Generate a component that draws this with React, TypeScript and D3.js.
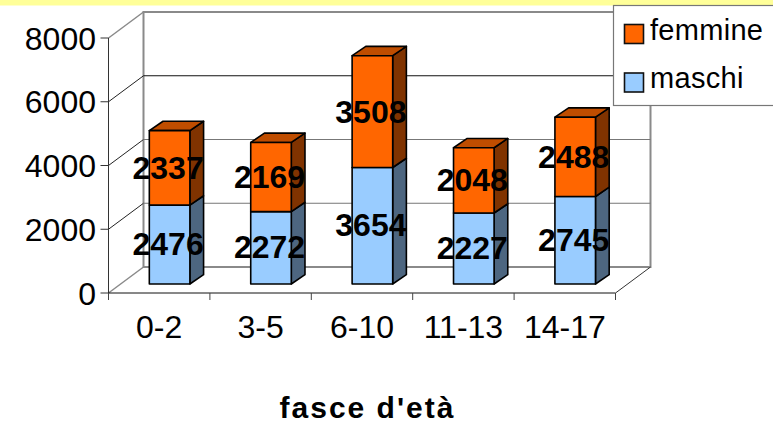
import React from 'react';
import * as d3 from 'd3';

const ageBands = ['0-2', '3-5', '6-10', '11-13', '14-17'];
const maschi = [2476, 2272, 3654, 2227, 2745];
const femmine = [2337, 2169, 3508, 2048, 2488];
const yTicks = [0, 2000, 4000, 6000, 8000];
const legendLabels = ['femmine', 'maschi'];

const width = 773;
const height = 424;

// fake 3d offsets
const wallDx = 35;
const wallDy = -26;
const barOx = 10.4;
const barOy = -9;
const sideDx = 13.7;
const sideDy = -9.3;

const FONT = '"Liberation Sans", Arial, sans-serif';

const y = d3.scaleLinear().domain([0, 8000]).range([293, 38]);
const x = d3.scaleBand<string>().domain(ageBands).range([108.5, 615.5]).paddingInner(0.6).paddingOuter(0.3);

const poly = (pts: [number, number][]) => d3.line()(pts) + 'Z';

const Segment: React.FC<{ x0: number; w: number; lo: number; hi: number; front: string; side: string; top?: string }> = ({ x0, w, lo, hi, front, side, top }) => {
  const yLo = y(lo) + barOy;
  const yHi = y(hi) + barOy;
  const x1 = x0 + w;
  return (
    <g stroke="#000" strokeWidth={1.6} strokeLinejoin="round">
      <path d={poly([[x1, yLo], [x1 + sideDx, yLo + sideDy], [x1 + sideDx, yHi + sideDy], [x1, yHi]])} fill={side} />
      {top && <path d={poly([[x0, yHi], [x0 + sideDx, yHi + sideDy], [x1 + sideDx, yHi + sideDy], [x1, yHi]])} fill={top} />}
      <rect x={x0} y={yHi} width={w} height={yLo - yHi} fill={front} />
    </g>
  );
};

export default function App() {
  const xLeft = 108.5;
  const xRight = 615.5;
  const tickStep = (xRight - xLeft) / ageBands.length;

  return (
    <svg width={width} height={height} style={{ position: 'absolute', left: 0, top: 0, background: '#fff' }} fontFamily={FONT}>
      <rect x={0} y={0} width={width} height={5.5} fill="#FFFF99" />

      {/* back wall */}
      <path d={poly([[xLeft + wallDx, y(8000) + wallDy], [xRight + wallDx, y(8000) + wallDy], [xRight + wallDx, y(0) + wallDy], [xLeft + wallDx, y(0) + wallDy]])} fill="#fff" stroke="#8a8a8a" strokeWidth={2} />
      <line x1={xLeft} y1={y(8000)} x2={xLeft + wallDx} y2={y(8000) + wallDy} stroke="#8a8a8a" strokeWidth={1.5} />
      <line x1={xLeft} y1={y(0)} x2={xLeft + wallDx} y2={y(0) + wallDy} stroke="#8a8a8a" strokeWidth={1.5} />
      <line x1={xRight} y1={y(0)} x2={xRight + wallDx} y2={y(0) + wallDy} stroke="#333" strokeWidth={1} />

      {/* gridlines */}
      {yTicks.filter(t => t > 0 && t < 8000).map(t => (
        <g key={t} fill="none">
          <line x1={xLeft} y1={y(t)} x2={xLeft + wallDx} y2={y(t) + wallDy} stroke="#222" strokeWidth={1} />
          <line x1={xLeft + wallDx} y1={y(t) + wallDy} x2={xRight + wallDx} y2={y(t) + wallDy} stroke={t === 6000 ? '#111' : '#777'} strokeWidth={1} />
        </g>
      ))}

      {/* axes */}
      <line x1={xLeft} y1={y(0)} x2={xLeft} y2={y(8000)} stroke="#333" strokeWidth={1} />
      <line x1={xLeft} y1={y(0)} x2={xRight} y2={y(0)} stroke="#111" strokeWidth={1} />
      {yTicks.map(t => (
        <g key={t}>
          <line x1={xLeft - 8} y1={y(t)} x2={xLeft} y2={y(t)} stroke="#333" strokeWidth={1} />
          <text x={96} y={y(t)} dy="0.36em" textAnchor="end" fontSize={32} fill="#000">{t}</text>
        </g>
      ))}
      {d3.range(ageBands.length + 1).map(i => (
        <line key={i} x1={xLeft + i * tickStep} y1={y(0)} x2={xLeft + i * tickStep} y2={y(0) + 7} stroke="#444" strokeWidth={1} />
      ))}
      {ageBands.map((b, i) => (
        <text key={b} x={xLeft + (i + 0.5) * tickStep} y={338} textAnchor="middle" fontSize={32} fill="#000">{b}</text>
      ))}

      {/* bars */}
      {ageBands.map((b, i) => {
        const x0 = x(b)! + barOx;
        const w = x.bandwidth();
        return (
          <g key={b}>
            <Segment x0={x0} w={w} lo={0} hi={maschi[i]} front="#99CCFF" side="#4D6680" />
            <Segment x0={x0} w={w} lo={maschi[i]} hi={maschi[i] + femmine[i]} front="#FF6600" side="#803300" top="#BF4D00" />
          </g>
        );
      })}

      {/* value labels */}
      {ageBands.map((b, i) => {
        const cx = x(b)! + barOx + x.bandwidth() / 2 - 1.5;
        return (
          <g key={b} fontSize={32} fontWeight="bold" textAnchor="middle" fill="#000">
            <text x={cx} y={y(maschi[i] / 2) + barOy - 1} dy="0.36em">{maschi[i]}</text>
            <text x={cx} y={y(maschi[i] + femmine[i] / 2) + barOy - 0.5} dy="0.36em">{femmine[i]}</text>
          </g>
        );
      })}

      {/* legend */}
      <rect x={613.5} y={5.5} width={162} height={100} fill="#fff" stroke="#777" strokeWidth={1.2} />
      {legendLabels.map((l, i) => (
        <g key={l}>
          <rect x={624.5} y={24.5 + i * 48.5} width={19} height={19} fill={i === 0 ? '#FF6600' : '#99CCFF'} stroke="#111" strokeWidth={1.6} />
          <text x={650} y={40 + i * 48} fontSize={29} letterSpacing={0.3} fill="#000">{l}</text>
        </g>
      ))}

      <text x={367.5} y={418} textAnchor="middle" fontSize={30} fontWeight="bold" letterSpacing={2} fill="#000">fasce d'età</text>
    </svg>
  );
}
